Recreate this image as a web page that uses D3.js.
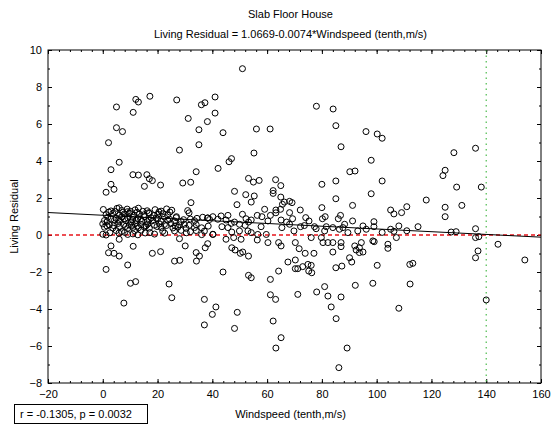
<!DOCTYPE html>
<html><head><meta charset="utf-8">
<script src="https://cdn.jsdelivr.net/npm/d3@7"></script>
<style>body{margin:0;background:#fff}svg{display:block}text{font-family:"Liberation Sans",Arial,sans-serif;fill:#000}</style>
</head><body><div id="chart"></div>
<script>
const title = "Slab Floor House";
const subtitle = "Living Residual = 1.0669-0.0074*Windspeed (tenth,m/s)";
const xLabel = "Windspeed (tenth,m/s)";
const yLabel = "Living Residual";
const statText = "r = -0.1305, p = 0.0032";
const intercept = 1.0669, slope = -0.0074;
const refX = 140;
const xTickLabels = [-20,0,20,40,60,80,100,120,140,160];
const yTickLabels = [-8,-6,-4,-2,0,2,4,6,8,10];

// windspeed (tenth, m/s)
const windspeed = [
5.0,12.05,13.0,17.2,11.1,27.0,36.0,37.3,31.2,38.2,35.1,5.0,7.2,2.1,28.0,35.1,6.0,3.0,11.0,13.0,16.1,17.0,18.1,21.1,15.2,3.0,4.1,1.2,29.2,32.1,34.1,32.2,
51.0,41.0,41.0,43.9,56.1,61.1,55.2,47.0,46.1,42.1,53.2,55.0,57.1,63.1,65.0,62.2,62.2,48.1,52.2,55.3,65.0,68.2,78.0,84.1,85.1,96.1,87.0,98.0,90.2,92.1,80.0,85.1,85.1,98.0,
100.2,102.0,102.0,128.2,136.1,125.0,124.2,129.2,138.2,118.1,
49.0,54.2,66.3,65.6,69.1,91.2,80.0,59.1,63.2,63.2,64.9,68.2,72.1,51.0,56.4,58.1,61.2,52.3,54.2,53.2,60.3,65.1,67.1,69.3,74.1,75.3,80.2,81.2,86.0,86.8,91.2,
45.7,43.2,40.2,38.3,42.0,45.0,46.9,48.1,49.9,52.0,43.5,45.7,53.0,47.1,49.9,54.2,57.8,56.6,59.7,65.4,68.2,72.2,69.8,73.6,77.3,77.9,81.6,81.0,84.0,86.4,87.7,88.3,89.5,93.1,95.0,96.2,40.2,
60.3,45.0,47.8,50.5,56.4,64.2,65.1,70.3,76.1,79.8,80.4,82.2,84.0,87.0,87.0,92.0,92.5,93.7,94.4,95.0,93.7,98.6,47.1,48.3,50.2,51.1,53.2,67.6,70.3,71.7,73.9,77.1,84.0,90.1,90.9,70.3,71.2,73.0,74.9,76.1,75.2,76.3,85.1,87.3,43.9,53.2,54.2,61.2,64.2,92.2,98.6,81.0,82.2,78.1,71.2,61.2,63.1,87.0,83.4,85.2,41.3,40.0,49.1,48.1,62.2,65.1,63.2,89.2,86.2,
105.1,106.3,109.1,111.0,125.0,125.0,131.1,99.0,99.0,102.0,105.1,106.3,108.1,107.2,111.0,115.1,127.2,129.0,136.1,136.1,137.3,99.1,104.1,104.1,137.0,136.1,144.3,154.1,100.2,112.1,113.2,112.2,108.1,140.0,
6.0,28.0,3.0,11.1,30.1,37.4,38.3,2.1,4.1,6.0,18.1,21.1,34.1,35.3,26.2,28.1,34.2,9.1,1.2,10.1,12.0,24.2,25.2,7.7,37.1,37.1,
0.2,3.0,5.2,6.9,8.9,10.1,11.8,13.0,16.2,19.1,21.3,23.3,25.2,31.0,6.0,31.5,26.9,
1.2,3.65,6.1,7.9,9.7,11.3,13.4,15.0,17.0,18.6,20.1,21.9,23.7,
1.8,4.9,6.9,9.1,11.0,12.8,15.2,17.7,19.5,22.5,26.8,34.4,36.5,38.3,
0.6,1.6,4.3,6.1,8.5,10.4,12.2,14.3,16.2,18.3,21.3,23.7,26.2,28.6,33.5,
0.0,2.4,5.5,7.6,9.7,11.8,14.0,16.4,18.9,20.7,22.5,24.9,28.0,29.8,34.1,
0.6,3.65,6.1,9.1,11.0,13.0,15.2,17.0,21.3,25.6,27.4,30.4,33.5,36.1,
4.9,6.9,11.6,14.0,21.9,26.2,28.6,32.0,34.1,37.1,
0.0,1.2,9.1,11.0,12.8,18.9,36.1,40.2,
2.2,4.5,7.3,9.0,12.5,14.6,16.8,20.5,24.5,
3.0,5.8,8.0,10.9,13.8,16.9,20.0,24.4,29.5,32.0,39.0,
1.5,4.0,8.4,10.5,12.6,15.8,19.8,23.2,26.5,31.5,38.5,
2.6,5.9,8.0,15.5,17.2,22.6,30.5
];
// living residual
const residual = [
6.92,7.33,7.19,7.5,6.63,7.3,7.04,7.15,6.3,6.13,5.69,5.8,5.59,4.99,4.59,4.88,3.93,3.53,3.26,3.24,3.26,3.04,2.94,2.70,2.63,2.74,2.47,2.31,2.81,2.85,3.42,1.75,
8.99,7.46,6.59,5.53,5.73,5.73,4.43,4.13,3.96,3.6,3.06,2.86,2.95,2.99,2.67,2.40,2.25,2.36,2.18,2.11,2.05,1.82,6.96,6.81,5.91,5.59,4.77,4.04,3.42,3.46,2.74,2.92,1.96,2.23,
5.46,5.23,2.92,4.45,4.69,3.50,3.21,2.59,2.59,1.89,
1.64,1.78,1.78,1.66,1.75,1.60,1.48,1.39,1.35,1.20,1.39,1.21,1.35,1.12,1.06,0.99,1.06,0.88,0.81,0.70,0.76,0.81,0.70,0.88,0.94,0.76,0.88,0.99,0.88,1.06,0.76,
1.06,1.03,0.99,0.92,0.85,0.81,0.63,0.70,0.58,0.52,0.45,0.40,0.22,0.16,0.22,0.13,0.45,0.03,0.03,0.40,0.58,0.45,0.22,0.51,0.45,0.34,0.45,0.22,0.40,0.31,0.40,0.58,0.13,0.22,0.49,0.31,0.04,
-0.41,-0.23,-0.14,-0.23,-0.27,-0.41,-0.59,-0.41,-0.14,-0.14,-0.41,-0.41,-0.41,-0.41,-0.63,-0.59,-0.81,-0.69,-0.41,-0.92,-0.95,-0.32,-0.69,-0.81,-0.99,-0.92,-1.14,-1.46,-1.35,-0.74,-0.99,-0.99,-0.92,-1.23,-1.46,-1.82,-1.82,-1.71,-1.59,-1.64,-1.95,-2.04,-1.77,-1.68,-2.0,-2.18,-2.31,-2.40,-1.95,-2.72,-2.61,-2.79,-3.30,-3.08,-3.21,-3.23,-3.48,-3.35,-3.89,-4.52,-3.89,-4.29,-4.18,-5.05,-4.65,-5.55,-6.11,-6.11,-7.17,
1.35,1.14,1.21,1.53,1.50,0.99,1.60,0.72,0.45,0.14,0.31,0.20,0.49,-0.14,0.23,0.45,0.16,0.18,0.34,-0.14,-0.09,-0.36,-0.50,-0.72,-0.86,-1.23,-0.50,-1.35,-1.64,-1.59,-1.53,-2.65,-3.96,-3.51,
-0.23,-0.2,-0.59,-0.61,-0.59,-0.69,-0.47,-0.96,-0.99,-1.14,-0.99,-0.90,-0.95,-1.14,-1.41,-1.37,-1.41,-1.62,-1.86,-2.61,-2.52,-2.65,-3.39,-3.68,-3.48,-4.86,
1.38,1.30,1.44,1.33,1.40,1.28,1.36,1.45,1.31,1.37,1.29,1.41,1.34,1.32,1.47,1.2,0.99,
1.10,1.16,1.08,1.14,1.18,1.06,1.13,1.09,1.17,1.05,1.12,1.15,1.07,
0.96,0.90,0.98,0.92,0.95,0.89,0.99,0.93,0.91,0.97,0.94,0.90,0.96,0.92,
0.78,0.73,0.80,0.74,0.77,0.71,0.79,0.75,0.72,0.78,0.74,0.80,0.76,0.73,0.77,
0.60,0.55,0.62,0.57,0.54,0.61,0.56,0.59,0.53,0.60,0.57,0.62,0.55,0.58,0.56,
0.42,0.38,0.44,0.36,0.41,0.39,0.43,0.37,0.41,0.38,0.42,0.36,0.40,0.39,
0.24,0.19,0.23,0.26,0.20,0.22,0.25,0.18,0.24,0.21,
0.04,0.00,0.03,0.06,0.01,0.05,0.02,0.03,
1.24,1.27,1.22,1.26,1.23,1.28,1.21,1.25,1.24,
0.86,0.83,0.87,0.84,0.86,0.82,0.87,0.85,0.83,0.86,0.84,
0.49,0.51,0.47,0.52,0.48,0.50,0.46,0.51,0.49,0.52,0.48,
0.12,0.10,0.14,0.11,0.13,0.10,0.12
];

const W = 553, H = 432;
const m = {left:48, right:12, top:50, bottom:49};
const svg = d3.select("#chart").append("svg").attr("width",W).attr("height",H);
svg.append("rect").attr("width",W).attr("height",H).attr("fill","#fff");

const x = d3.scaleLinear().domain([-20,160]).range([m.left, W-m.right]);
const y = d3.scaleLinear().domain([-8,10]).range([H-m.bottom, m.top]);

const minorX = d3.range(-20,160.1,4);
const minorY = d3.range(-8,10.1,1);

svg.append("clipPath").attr("id","clip").append("rect")
  .attr("x",m.left).attr("y",m.top).attr("width",x(160)-x(-20)).attr("height",y(-8)-y(10));

const fs = "11px";
function styleAxis(g){ g.select(".domain").remove(); g.selectAll("line").attr("stroke","#000"); g.selectAll("text").style("font-size",fs).style("font-family",'"Liberation Sans",Arial,sans-serif'); }

svg.append("g").attr("transform",`translate(0,${y(-8)})`).call(d3.axisBottom(x).tickValues(minorX).tickSize(-2).tickFormat("")).call(styleAxis);
svg.append("g").attr("transform",`translate(0,${y(10)})`).call(d3.axisTop(x).tickValues(minorX).tickSize(-2).tickFormat("")).call(styleAxis);
svg.append("g").attr("transform",`translate(${x(-20)},0)`).call(d3.axisLeft(y).tickValues(minorY).tickSize(-2).tickFormat("")).call(styleAxis);
svg.append("g").attr("transform",`translate(${x(160)},0)`).call(d3.axisRight(y).tickValues(minorY).tickSize(-2).tickFormat("")).call(styleAxis);
svg.append("g").attr("transform",`translate(0,${y(-8)})`).call(d3.axisBottom(x).tickValues(xTickLabels).tickSize(-4).tickPadding(7)).call(styleAxis);
svg.append("g").attr("transform",`translate(0,${y(10)})`).call(d3.axisTop(x).tickValues(xTickLabels).tickSize(-4).tickFormat("")).call(styleAxis);
svg.append("g").attr("transform",`translate(${x(-20)},0)`).call(d3.axisLeft(y).tickValues(yTickLabels).tickSize(-4).tickPadding(6)).call(styleAxis);
svg.append("g").attr("transform",`translate(${x(160)},0)`).call(d3.axisRight(y).tickValues(yTickLabels).tickSize(-4).tickFormat("")).call(styleAxis);

const plot = svg.append("g").attr("clip-path","url(#clip)");
plot.append("line").attr("x1",x(-20)).attr("x2",x(160)).attr("y1",y(0)).attr("y2",y(0))
  .attr("stroke","#e8141b").attr("stroke-width",1.6).attr("stroke-dasharray","4,3");
plot.append("line").attr("x1",x(refX)).attr("x2",x(refX)).attr("y1",y(10)).attr("y2",y(-8))
  .attr("stroke","#4cbb4c").attr("stroke-width",1.2).attr("stroke-dasharray","1.5,4");

const pts = windspeed.map((w,i)=>({w, r: residual[i]}));
plot.append("g").selectAll("circle").data(pts).join("circle")
  .attr("cx",d=>x(d.w)).attr("cy",d=>y(d.r)).attr("r",3)
  .attr("fill","none").attr("stroke","#000").attr("stroke-width",1);

plot.append("line").attr("x1",x(-20)).attr("x2",x(160))
  .attr("y1",y(intercept+slope*-20)).attr("y2",y(intercept+slope*160))
  .attr("stroke","#000").attr("stroke-width",1);

svg.append("rect").attr("x",x(-20)).attr("y",y(10)).attr("width",x(160)-x(-20)).attr("height",y(-8)-y(10))
  .attr("fill","none").attr("stroke","#000").attr("stroke-width",1);

const cx = (x(-20)+x(160))/2;
svg.append("text").attr("x",cx-4).attr("y",18).attr("text-anchor","middle").style("font-size",fs).text(title);
svg.append("text").attr("x",cx-4).attr("y",38).attr("text-anchor","middle").style("font-size",fs).text(subtitle);
svg.append("text").attr("x",cx-4).attr("y",418).attr("text-anchor","middle").style("font-size",fs).text(xLabel);
svg.append("text").attr("transform",`translate(18,${(y(10)+y(-8))/2}) rotate(-90)`).attr("text-anchor","middle").style("font-size",fs).text(yLabel);

svg.append("rect").attr("x",14.5).attr("y",404.5).attr("width",133).attr("height",19).attr("fill","#fff").attr("stroke","#000");
svg.append("text").attr("x",20).attr("y",418).style("font-size",fs).text(statText);
</script></body></html>
